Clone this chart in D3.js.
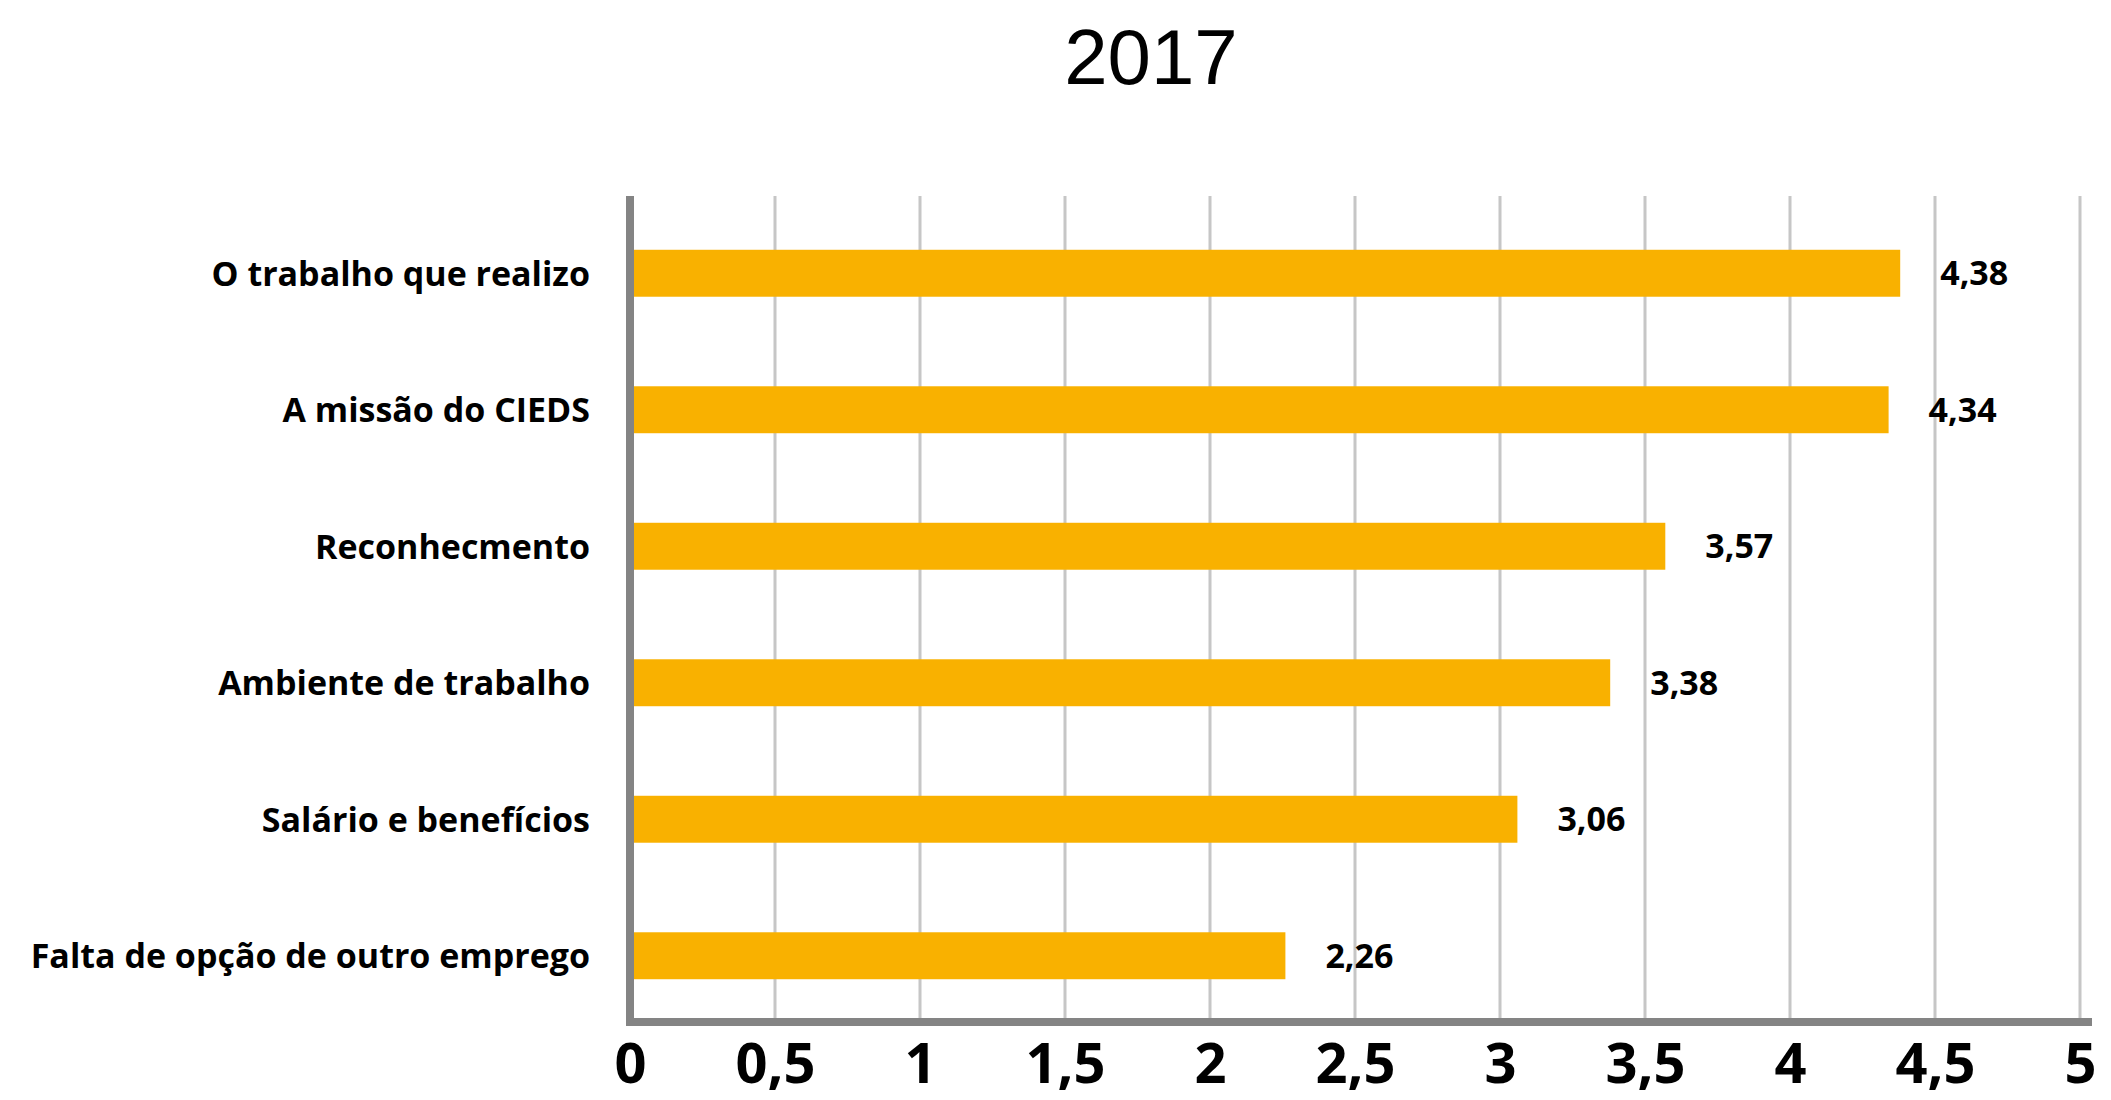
<!DOCTYPE html>
<html lang="pt">
<head>
<meta charset="utf-8">
<title>2017</title>
<script src="https://cdn.jsdelivr.net/npm/d3@7"></script>
<style>
  html, body { margin: 0; padding: 0; background: #ffffff; }
  svg { display: block; }
  .title { font-family: "Liberation Sans", Arial, sans-serif; font-weight: 400; }
  .lbl { font-family: "Open Sans", "Noto Sans", sans-serif; font-weight: 700; fill: #000; }
</style>
</head>
<body>
<svg id="chart" width="2111" height="1100"></svg>
<script>
// Motivos de permanência — médias (escala 0 a 5)
const titleText = "2017";
const categories = [
  "O trabalho que realizo",
  "A missão do CIEDS",
  "Reconhecmento",
  "Ambiente de trabalho",
  "Salário e benefícios",
  "Falta de opção de outro emprego"
];
const values = [4.38, 4.34, 3.57, 3.38, 3.06, 2.26];
const tickValues = [0, 0.5, 1, 1.5, 2, 2.5, 3, 3.5, 4, 4.5, 5];

const svg = d3.select("#chart");

const plotLeft = 630, plotRight = 2080, plotTop = 196, plotBottom = 1022;

const x = d3.scaleLinear().domain([0, 5]).range([plotLeft, plotRight]);
const y = d3.scaleBand()
  .domain(categories)
  .range([205, 1024])
  .paddingInner(0.656)
  .paddingOuter(0.328);

const fmt = v => d3.format("~g")(v).replace(".", ",");
const fmtVal = v => d3.format(".2f")(v).replace(".", ",");

// Title
svg.append("text")
  .attr("class", "title")
  .attr("x", 1151)
  .attr("y", 84)
  .attr("text-anchor", "middle")
  .attr("font-size", 78)
  .attr("fill", "#000")
  .text(titleText);

// Vertical gridlines
svg.append("g")
  .selectAll("line")
  .data(tickValues.filter(d => d > 0))
  .join("line")
  .attr("x1", d => x(d))
  .attr("x2", d => x(d))
  .attr("y1", plotTop)
  .attr("y2", plotBottom)
  .attr("stroke", "#c6c6c6")
  .attr("stroke-width", 3);

// Bars
svg.append("g")
  .selectAll("rect")
  .data(values)
  .join("rect")
  .attr("x", x(0))
  .attr("y", (d, i) => y(categories[i]))
  .attr("width", d => x(d) - x(0))
  .attr("height", y.bandwidth())
  .attr("fill", "#f9b100");

// Value labels
svg.append("g")
  .selectAll("text")
  .data(values)
  .join("text")
  .attr("class", "lbl")
  .attr("x", d => x(d) + 40)
  .attr("y", (d, i) => y(categories[i]) + y.bandwidth() / 2)
  .attr("dy", "0.36em")
  .attr("font-size", 34)
  .text(d => fmtVal(d));

// Axis lines
svg.append("line")
  .attr("x1", plotLeft).attr("x2", plotLeft)
  .attr("y1", plotTop).attr("y2", plotBottom + 4)
  .attr("stroke", "#848484").attr("stroke-width", 8);
svg.append("line")
  .attr("x1", plotLeft - 4).attr("x2", 2092)
  .attr("y1", plotBottom).attr("y2", plotBottom)
  .attr("stroke", "#848484").attr("stroke-width", 8);

// Category labels (left axis)
const yAxis = d3.axisLeft(y).tickSize(0).tickPadding(40);
const gy = svg.append("g")
  .attr("transform", `translate(${plotLeft},0)`)
  .call(yAxis);
gy.select(".domain").remove();
gy.selectAll("text")
  .attr("class", "lbl")
  .attr("font-size", 34)
  .attr("dy", "0.36em")
  .attr("fill", "#000");

// Tick labels (bottom axis)
const xAxis = d3.axisBottom(x).tickValues(tickValues).tickSize(0).tickPadding(0).tickFormat(fmt);
const gx = svg.append("g")
  .attr("transform", `translate(0,1083)`)
  .call(xAxis);
gx.select(".domain").remove();
gx.selectAll("text")
  .attr("class", "lbl")
  .attr("font-size", 56)
  .attr("y", 0)
  .attr("dy", 0)
  .attr("fill", "#000");
</script>
</body>
</html>
